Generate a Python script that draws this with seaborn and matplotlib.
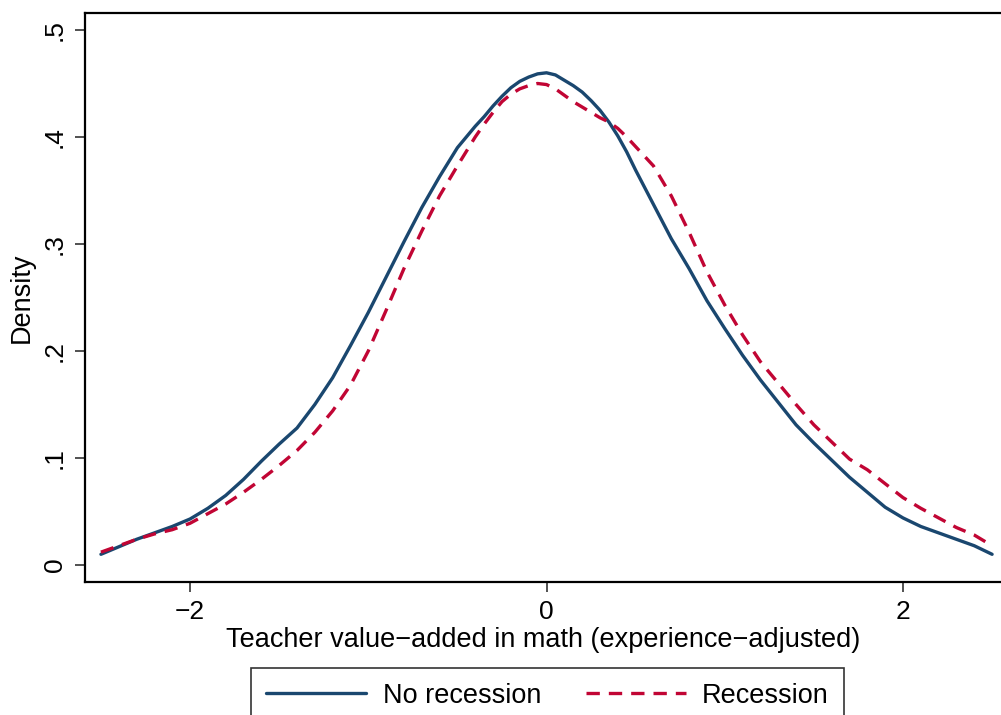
import numpy as np
import pandas as pd
import matplotlib
matplotlib.use("Agg")
import matplotlib.pyplot as plt
import seaborn as sns

# valores (densidade estimada em cada ponto de x)
x_vals = [-2.5, -2.4, -2.3, -2.2, -2.1, -2.0, -1.9, -1.8, -1.7, -1.6,
          -1.5, -1.4, -1.3, -1.2, -1.1, -1.0, -0.9, -0.8, -0.7, -0.6,
          -0.5, -0.4, -0.35, -0.3, -0.25, -0.2, -0.15, -0.1, -0.05, 0.0,
          0.05, 0.1, 0.15, 0.2, 0.25, 0.3, 0.35, 0.4, 0.45,
          0.5, 0.6, 0.7, 0.8, 0.9, 1.0, 1.1, 1.2, 1.3, 1.4,
          1.5, 1.6, 1.7, 1.8, 1.9, 2.0, 2.1, 2.2, 2.3, 2.4, 2.5]

no_recession = [0.010, 0.017, 0.024, 0.030, 0.036, 0.043, 0.053, 0.065, 0.080, 0.097,
                0.113, 0.128, 0.150, 0.175, 0.205, 0.236, 0.269, 0.302, 0.334, 0.363,
                0.390, 0.410, 0.419, 0.429, 0.438, 0.446, 0.452, 0.456, 0.459, 0.460,
                0.458, 0.453, 0.448, 0.442, 0.434, 0.425, 0.414, 0.401, 0.386,
                0.369, 0.337, 0.305, 0.277, 0.247, 0.221, 0.196, 0.173, 0.152, 0.131,
                0.114, 0.098, 0.082, 0.068, 0.054, 0.044, 0.036, 0.030, 0.024, 0.018, 0.010]

recession = [0.012, 0.018, 0.024, 0.029, 0.033, 0.039, 0.048, 0.057, 0.068, 0.080,
             0.093, 0.107, 0.124, 0.144, 0.168, 0.200, 0.238, 0.277, 0.312, 0.345,
             0.373, 0.400, 0.412, 0.423, 0.433, 0.440, 0.445, 0.448, 0.450, 0.449,
             0.445, 0.439, 0.433, 0.428, 0.423, 0.418, 0.414, 0.408, 0.400,
             0.391, 0.373, 0.345, 0.311, 0.274, 0.243, 0.215, 0.190, 0.170, 0.150,
             0.131, 0.115, 0.099, 0.089, 0.076, 0.063, 0.053, 0.044, 0.035, 0.028, 0.018]

y_ticks = [0, 0.1, 0.2, 0.3, 0.4, 0.5]
y_tick_labels = ["0", ".1", ".2", ".3", ".4", ".5"]
x_ticks = [-2, 0, 2]

NAVY = "#1a476f"
CRANBERRY = "#c10534"

sns.set_theme(style="ticks")
plt.rcParams["font.family"] = ["Liberation Sans", "DejaVu Sans"]
plt.rcParams["text.color"] = "black"
plt.rcParams["axes.labelcolor"] = "black"
plt.rcParams["xtick.color"] = "black"
plt.rcParams["ytick.color"] = "black"

df = pd.DataFrame({"x": x_vals, "No recession": no_recession, "Recession": recession})

fig = plt.figure(figsize=(10.01, 7.15), dpi=100)
ax = fig.add_axes([0.085, 0.186, 0.915, 0.796])

sns.lineplot(data=df, x="x", y="No recession", ax=ax, color=NAVY,
             linewidth=2.4, label="No recession")
sns.lineplot(data=df, x="x", y="Recession", ax=ax, color=CRANBERRY,
             linewidth=2.4, linestyle=(0, (4, 2.7)), label="Recession")

ax.set_xlim(-2.589, 2.55)
ax.set_ylim(-0.0159, 0.516)
ax.set_yticks(y_ticks)
ax.set_yticklabels(y_tick_labels, rotation=90, va="center")
ax.set_xticks(x_ticks)
ax.tick_params(axis="both", labelsize=19, length=7, width=1.2, color="#333333", pad=6)

ax.set_xlabel("Teacher value\u2212added in math (experience\u2212adjusted)", fontsize=19.5, labelpad=2)
ax.set_ylabel("Density", fontsize=19.5, labelpad=6)

for side in ["left", "bottom", "top"]:
    ax.spines[side].set_linewidth(1.6)
    ax.spines[side].set_color("black")
ax.spines["right"].set_visible(False)

# legenda abaixo do gráfico, cortada na borda inferior como no original
ax.legend_.remove()
handles, labels = ax.get_legend_handles_labels()
leg = fig.legend(handles, labels, loc="upper center", bbox_to_anchor=(0.547, 0.066),
                 ncol=2, fontsize=19.5, frameon=True, fancybox=False,
                 handlelength=3.7, columnspacing=1.65, handletextpad=0.6,
                 borderpad=0.55, borderaxespad=0)
leg.get_frame().set_edgecolor("black")
leg.get_frame().set_linewidth(1.2)

fig.savefig("out.png", dpi=100)
